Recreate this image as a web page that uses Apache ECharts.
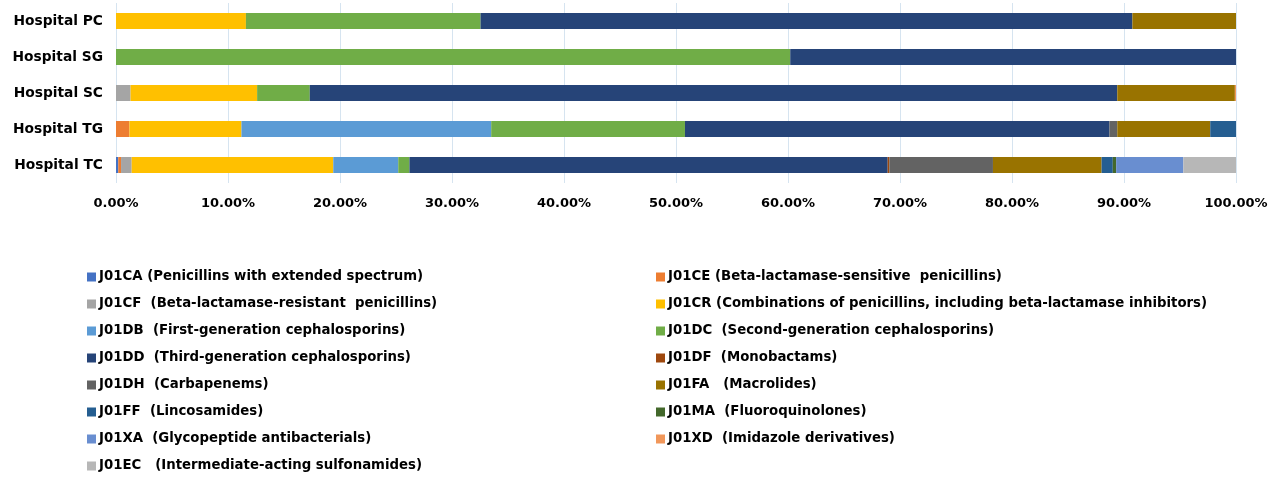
<!DOCTYPE html>
<html><head><meta charset="utf-8">
<script src="https://cdn.jsdelivr.net/npm/echarts@6/dist/echarts.min.js"></script>
<style>html,body{margin:0;padding:0;background:#fff}#c{width:1278px;height:477px}</style>
</head><body><div id="c"></div>
<script>
const hospitals = ['Hospital PC','Hospital SG','Hospital SC','Hospital TG','Hospital TC'];
const xTicks = [0,10,20,30,40,50,60,70,80,90,100];
const seriesNames = [
 'J01CA (Penicillins with extended spectrum)',
 'J01CE (Beta-lactamase-sensitive  penicillins)',
 'J01CF  (Beta-lactamase-resistant  penicillins)',
 'J01CR (Combinations of penicillins, including beta-lactamase inhibitors)',
 'J01DB  (First-generation cephalosporins)',
 'J01DC  (Second-generation cephalosporins)',
 'J01DD  (Third-generation cephalosporins)',
 'J01DF  (Monobactams)',
 'J01DH  (Carbapenems)',
 'J01FA   (Macrolides)',
 'J01FF  (Lincosamides)',
 'J01MA  (Fluoroquinolones)',
 'J01XA  (Glycopeptide antibacterials)',
 'J01XD  (Imidazole derivatives)',
 'J01EC   (Intermediate-acting sulfonamides)'
];
const seriesColors = ['#4472C4','#ED7D31','#A5A5A5','#FFC000','#5B9BD5','#70AD47','#264478','#9E480E','#636363','#997300','#255E91','#43682B','#698ED0','#F1975A','#B7B7B7'];
// values per hospital order: PC, SG, SC, TG, TC (percent)
const J01CA = [0, 0, 0, 0, 0.2];
const J01CE = [0, 0, 0, 1.2, 0.25];
const J01CF = [0, 0, 1.3, 0, 0.95];
const J01CR = [11.6, 0, 11.3, 10.0, 18.0];
const J01DB = [0, 0, 0, 22.3, 5.8];
const J01DC = [20.95, 60.2, 4.7, 17.3, 1.0];
const J01DD = [58.2, 39.8, 72.1, 37.9, 42.7];
const J01DF = [0, 0, 0, 0, 0.15];
const J01DH = [0, 0, 0, 0.7, 9.25];
const J01FA = [9.25, 0, 10.5, 8.3, 9.7];
const J01FF = [0, 0, 0, 2.3, 1.0];
const J01MA = [0, 0, 0, 0, 0.3];
const J01XA = [0, 0, 0, 0, 6.0];
const J01XD = [0, 0, 0.1, 0, 0];
const J01EC = [0, 0, 0, 0, 4.7];
const allValues = [J01CA,J01CE,J01CF,J01CR,J01DB,J01DC,J01DD,J01DF,J01DH,J01FA,J01FF,J01MA,J01XA,J01XD,J01EC];

const chart = echarts.init(document.getElementById('c'));
const font = 'DejaVu Sans, Verdana, sans-serif';
const leftNames = [0,2,4,6,8,10,12,14].map(i=>seriesNames[i]);
const rightNames = [1,3,5,7,9,11,13].map(i=>seriesNames[i]);
const legendCommon = {
  orient:'vertical', itemWidth:9, itemHeight:9, itemGap:13, icon:'rect', height:230,
  textStyle:{fontFamily:font, fontWeight:'bold', fontSize:13.3, color:'#000', lineHeight:14, padding:[0,0,0,-2]}
};
chart.setOption({
  backgroundColor:'#ffffff',
  animation:false,
  grid:{left:116, right:42, top:3, height:180, containLabel:false},
  legend:[
    Object.assign({left:82, top:265, data:leftNames}, legendCommon),
    Object.assign({left:651, top:265, data:rightNames}, legendCommon)
  ],
  xAxis:{type:'value', min:0, max:100, interval:10,
    axisLine:{show:false}, axisTick:{show:false},
    splitLine:{lineStyle:{color:'#d6e4f0', width:1}},
    axisLabel:{formatter:v=>v.toFixed(2)+'%', fontFamily:font, fontWeight:'bold', fontSize:13, color:'#000', margin:14}
  },
  yAxis:{type:'category', data:hospitals, inverse:true,
    axisLine:{show:false}, axisTick:{show:false},
    axisLabel:{fontFamily:font, fontWeight:'bold', fontSize:13.8, color:'#000', margin:13}
  },
  series: seriesNames.map((n,i)=>({
    name:n, type:'bar', stack:'total', barWidth:16,
    itemStyle:{color:seriesColors[i]},
    data: allValues[i]
  }))
});
</script></body></html>
